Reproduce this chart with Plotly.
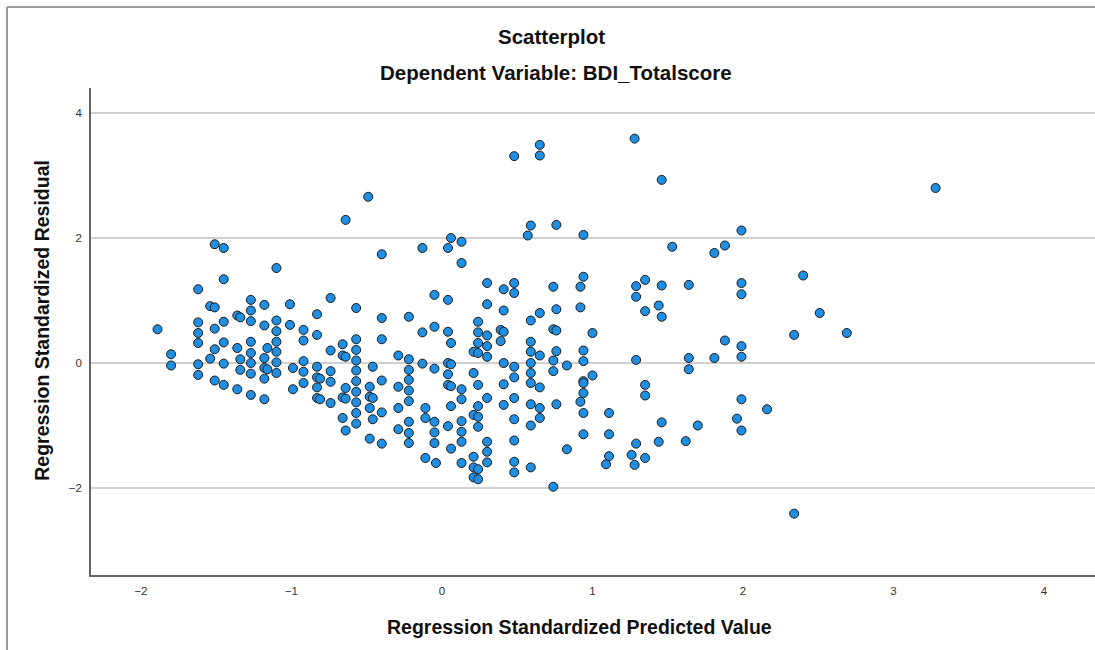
import plotly.graph_objects as go

# Regression Standardized Predicted Value (x) and Regression Standardized Residual (y)
predicted = (
    [-0.64, -0.49, -1.51, -1.45, -0.40, -0.13, 0.04, 0.06, -1.10, -1.45, -1.62]
    + [-1.54, -1.51, -1.27, -1.18, -1.01, -1.89, -1.62, -1.62, -1.62, -1.51, -1.45, -1.36, -1.34,
       -1.27, -1.27, -1.18, -1.10, -1.10, -1.01]
    + [-1.80, -1.80, -1.62, -1.62, -1.51, -1.54, -1.45, -1.45, -1.51, -1.45, -1.36, -1.34, -1.34,
       -1.36, -1.27, -1.27, -1.27, -1.27, -1.27, -1.18, -1.16, -1.18, -1.16, -1.18, -1.18, -1.10,
       -1.10, -1.10, -1.10, -0.99, -0.99]
    + [-0.74, -0.57, -0.40, -0.22, -0.05]
    + [-0.83, -0.92, -0.92, -0.83, -0.74, -0.66, -0.66, -0.64, -0.57, -0.57, -0.57, -0.40, -0.13, -0.05]
    + [-0.29, -0.22, -0.13, -0.05]
    + [-0.92, -0.92, -0.83, -0.83, -0.81, -0.74, -0.74, -0.57, -0.57, -0.46, -0.40, -0.22, -0.22]
    + [-0.92, -0.83, -0.83, -0.81, -0.74, -0.64, -0.66, -0.64, -0.57, -0.57, -0.57, -0.57, -0.48,
       -0.48, -0.46, -0.48, -0.46, -0.40]
    + [-0.29, -0.22, -0.22, -0.29, -0.22, -0.29, -0.22, -0.22, -0.11, -0.11, -0.05, -0.05, -0.05,
       -0.11, -0.66, -0.64, -0.48, -0.40]
    + [0.30, 0.41, 0.48, 0.48, 0.74, 0.92, 0.04, 0.30, 0.41, 0.59, 0.65, 0.76, 0.92]
    + [0.04, 0.06, 0.24, 0.24, 0.30, 0.24, 0.30, 0.21, 0.24, 0.30, 0.39, 0.41, 0.39, 0.59, 0.59,
       0.65, 0.74, 0.76, 0.76, 0.74, 0.74, 0.83, 0.94, 0.94, 1.00, 1.00]
    + [0.04, 0.06, 0.04, 0.04, 0.06, 0.13, 0.13, 0.21, 0.24, 0.30, 0.41, 0.48, 0.48, 0.41, 0.59,
       0.59, 0.59, 0.65, 0.94, 0.94, 0.94, 0.92, 0.94, 0.94, 0.76, 0.83]
    + [0.06, 0.24, 0.21, 0.24, 0.24, 0.13, 0.13, 0.13, 0.04, 0.06, -0.04, 0.13, 0.30, 0.30, 0.30,
       0.21, 0.21, 0.24, 0.21, 0.24, 0.41, 0.48, 0.48, 0.48, 0.48, 0.48, 0.59, 0.65, 0.65, 0.59, 0.59]
    + [0.74, 1.09, 1.11, 1.28, 1.26, 1.35]
    + [1.29, 1.29, 1.35, 1.46, 1.64, 1.99, 1.99, 1.35, 1.44, 1.46, 1.88, 1.99, 1.99, 1.29, 1.64,
       1.81, 1.64, 1.35, 1.35, 1.99, 1.11, 1.11, 1.29, 1.44, 1.46, 1.62, 1.70, 1.96, 1.99]
    + [0.48, 0.65, 0.65, 1.28, 1.46, 0.13, 0.13, 0.59, 0.57, 0.76, 0.94, 1.53, 1.81, 1.88, 1.99, 0.94]
    + [3.28, 2.40, 2.51, 2.34, 2.69, 2.16, 2.34]
)

residual = (
    [2.29, 2.66, 1.90, 1.84, 1.74, 1.84, 1.84, 2.00, 1.52, 1.34, 1.18]
    + [0.91, 0.89, 1.01, 0.93, 0.94, 0.54, 0.65, 0.48, 0.32, 0.55, 0.66, 0.76, 0.73,
       0.84, 0.67, 0.60, 0.68, 0.51, 0.61]
    + [0.14, -0.04, -0.02, -0.19, 0.22, 0.07, 0.33, -0.01, -0.28, -0.35, 0.24, 0.06, -0.11,
       -0.42, 0.34, 0.16, 0.00, -0.17, -0.51, 0.08, 0.24, -0.08, -0.10, -0.25, -0.58, 0.34,
       0.18, 0.01, -0.16, -0.08, -0.42]
    + [1.04, 0.88, 0.72, 0.74, 1.09]
    + [0.78, 0.53, 0.36, 0.45, 0.20, 0.30, 0.12, 0.10, 0.38, 0.21, 0.04, 0.38, 0.49, 0.58]
    + [0.12, 0.06, -0.01, -0.09]
    + [0.03, -0.14, -0.06, -0.23, -0.25, -0.13, -0.30, -0.12, -0.29, -0.06, -0.28, -0.11, -0.27]
    + [-0.32, -0.39, -0.56, -0.58, -0.64, -0.40, -0.55, -0.57, -0.46, -0.63, -0.80, -0.97, -0.38,
       -0.54, -0.56, -0.72, -0.90, -0.79]
    + [-0.38, -0.44, -0.61, -0.72, -0.94, -1.06, -1.12, -1.28, -0.72, -0.88, -0.94, -1.11, -1.28,
       -1.52, -0.88, -1.08, -1.21, -1.29]
    + [1.28, 1.18, 1.28, 1.12, 1.22, 1.22, 1.01, 0.94, 0.84, 0.68, 0.80, 0.86, 0.89]
    + [0.50, 0.32, 0.66, 0.49, 0.44, 0.32, 0.27, 0.18, 0.16, 0.10, 0.53, 0.50, 0.35, 0.34, 0.18,
       0.12, 0.54, 0.52, 0.19, 0.04, -0.13, -0.04, 0.20, 0.03, 0.48, -0.20]
    + [0.00, -0.02, -0.18, -0.35, -0.37, -0.42, -0.58, -0.16, -0.35, -0.56, 0.00, -0.06, -0.23,
       -0.34, 0.00, -0.16, -0.32, -0.39, -0.29, -0.32, -0.48, -0.62, -0.80, -1.14, -0.66, -1.38]
    + [-0.69, -0.69, -0.83, -0.86, -1.02, -0.93, -1.10, -1.26, -1.01, -1.37, -1.60, -1.60, -1.26,
       -1.42, -1.59, -1.50, -1.67, -1.70, -1.83, -1.86, -0.67, -0.56, -0.90, -1.24, -1.58, -1.75,
       -0.66, -0.72, -0.88, -1.00, -1.67]
    + [-1.98, -1.62, -1.49, -1.63, -1.47, -1.52]
    + [1.23, 1.06, 1.33, 1.24, 1.25, 1.28, 1.10, 0.83, 0.92, 0.74, 0.36, 0.27, 0.10, 0.05, 0.08,
       0.08, -0.10, -0.35, -0.52, -0.58, -0.80, -1.14, -1.29, -1.26, -0.95, -1.25, -1.00, -0.89, -1.08]
    + [3.31, 3.49, 3.32, 3.59, 2.93, 1.94, 1.60, 2.20, 2.04, 2.21, 2.05, 1.86, 1.76, 1.88, 2.12, 1.38]
    + [2.80, 1.40, 0.80, 0.45, 0.48, -0.74, -2.41]
)

x_ticks = [-2, -1, 0, 1, 2, 3, 4]
y_ticks = [-2, 0, 2, 4]

title_main = "Scatterplot"
title_sub = "Dependent Variable: BDI_Totalscore"
x_title = "Regression Standardized Predicted Value"
y_title = "Regression Standardized Residual"

FONT = "Liberation Sans, Arial, sans-serif"

fig = go.Figure()
fig.add_trace(go.Scatter(
    x=predicted, y=residual, mode="markers",
    marker=dict(size=9, color="#1E8FE3", line=dict(color="#1a1a1a", width=1)),
    showlegend=False, hoverinfo="x+y",
))

fig.update_layout(
    width=1095, height=650,
    margin=dict(l=91, r=0, t=88, b=75),
    paper_bgcolor="white", plot_bgcolor="white",
    font=dict(family=FONT, color="#222"),
    xaxis=dict(range=[-2.332, 4.339], tickvals=x_ticks, showgrid=False, zeroline=False,
               showline=True, linecolor="#666", linewidth=1.5, ticks="",
               tickfont=dict(size=11.5, color="#333"), ticklabelstandoff=4),
    yaxis=dict(range=[-3.392, 4.4], tickvals=y_ticks, showgrid=True, gridcolor="#d0d0d0",
               gridwidth=1.5, zeroline=False, showline=True, linecolor="#666", linewidth=1.5,
               ticks="", tickfont=dict(size=11.5, color="#333"), ticklabelstandoff=5),
    annotations=[
        dict(text=f"<b>{title_main}</b>", xref="paper", yref="paper", x=0.459, y=1.105,
             xanchor="center", yanchor="middle", showarrow=False, font=dict(size=20.5, color="#111")),
        dict(text=f"<b>{title_sub}</b>", xref="paper", yref="paper", x=0.463, y=1.031,
             xanchor="center", yanchor="middle", showarrow=False, font=dict(size=20.5, color="#111")),
        dict(text=f"<b>{x_title}</b>", xref="paper", yref="paper", x=0.487, y=-0.107,
             xanchor="center", yanchor="middle", showarrow=False, font=dict(size=19.5, color="#111")),
        dict(text=f"<b>{y_title}</b>", xref="paper", yref="paper", x=-0.0488, y=0.522,
             xanchor="center", yanchor="middle", textangle=-90, showarrow=False,
             font=dict(size=19.5, color="#111")),
    ],
    shapes=[
        dict(type="line", xref="paper", yref="paper", x0=-0.0837, x1=1.05, y0=1.1663, y1=1.1663,
             line=dict(color="#999", width=2)),
        dict(type="line", xref="paper", yref="paper", x0=-0.0837, x1=-0.0837, y0=1.1663, y1=-0.2,
             line=dict(color="#999", width=2)),
    ],
)

fig.write_html(
    "out.html",
    config={"displayModeBar": False},
    post_script=(
        "document.documentElement.style.overflow='hidden';"
        "document.body.style.margin='0';document.body.style.overflow='hidden';"
    ),
)
